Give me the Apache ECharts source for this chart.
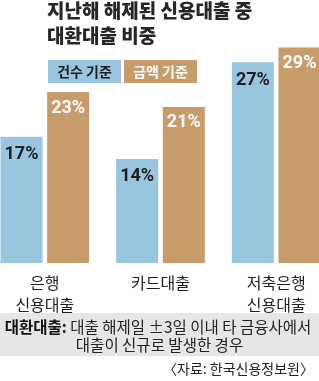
<!DOCTYPE html>
<html>
<head>
<meta charset="utf-8">
<script src="https://cdn.jsdelivr.net/npm/echarts@6/dist/echarts.min.js"></script>
<style>
  html, body { margin: 0; padding: 0; background: #fff; }
  #chart { width: 319px; height: 381px; }
</style>
</head>
<body>
<div id="chart"></div>
<script>
// 데이터
const categories = ['은행\n신용대출', '카드대출', '저축은행\n신용대출']
const countBased = [17, 14, 27]   // 건수 기준
const amountBased = [23, 21, 29]  // 금액 기준
const seriesNames = ['건수 기준', '금액 기준']

const BLUE = '#98c6df'
const BROWN = '#c89b6b'
const KR = '"Noto Sans CJK KR", "Noto Sans", sans-serif'
const NUM = '"Liberation Sans Narrow", "Roboto", sans-serif'

let chart = echarts.init(document.getElementById('chart'))

let option = {
    animation: false,
    grid: {
        left: -13,
        right: -15,
        top: 40,
        bottom: 118,
        containLabel: false,
        outerBoundsMode: 'none'
    },
    xAxis: {
        type: 'category',
        data: categories,
        axisLine: { show: false },
        axisTick: { show: false },
        axisLabel: {
            margin: 9,
            fontFamily: KR,
            fontSize: 16,
            lineHeight: 22,
            color: '#1e1e1e'
        }
    },
    yAxis: {
        type: 'value',
        min: 0,
        max: 30,
        show: false,
        splitLine: { show: false }
    },
    series: [
        {
            name: seriesNames[0],
            type: 'bar',
            data: countBased,
            barWidth: 42,
            barGap: '11%',
            itemStyle: { color: BLUE },
            label: {
                show: true,
                position: 'insideTop',
                distance: 9,
                formatter: '{c}%',
                fontFamily: NUM,
                fontWeight: 'bold',
                fontSize: 18,
                color: '#1e1e1e'
            }
        },
        {
            name: seriesNames[1],
            type: 'bar',
            data: amountBased,
            barWidth: 42,
            itemStyle: { color: BROWN },
            label: {
                show: true,
                position: 'insideTop',
                distance: 7,
                formatter: '{c}%',
                fontFamily: NUM,
                fontWeight: 'bold',
                fontSize: 18,
                color: '#fff'
            }
        }
    ],
    graphic: [
        // 제목
        {
            type: 'text', left: 47, top: 1,
            style: { text: '지난해 해제된 신용대출 중', font: '900 19px ' + KR, fill: '#262626' }
        },
        {
            type: 'text', left: 47, top: 26,
            style: { text: '대환대출 비중', font: '900 19px ' + KR, fill: '#262626' }
        },
        // 범례
        { type: 'rect', shape: { x: 48, y: 60, width: 73, height: 23 }, style: { fill: BLUE } },
        { type: 'rect', shape: { x: 124, y: 60, width: 73, height: 23 }, style: { fill: BROWN } },
        {
            type: 'text', x: 84.5, y: 71.5,
            style: { text: seriesNames[0], font: 'bold 14px ' + KR, fill: '#1e1e1e', align: 'center', verticalAlign: 'middle' }
        },
        {
            type: 'text', x: 160.5, y: 71.5,
            style: { text: seriesNames[1], font: 'bold 14px ' + KR, fill: '#fff', align: 'center', verticalAlign: 'middle' }
        },
        // 주석
        { type: 'rect', shape: { x: 0, y: 313, width: 319, height: 43 }, style: { fill: '#e6e6e6' } },
        {
            type: 'text', x: 158, y: 327,
            style: {
                text: '{b|대환대출:} 대출 해제일 ±3일 이내 타 금융사에서',
                align: 'center', verticalAlign: 'middle',
                font: '15.5px ' + KR, fill: '#222',
                rich: { b: { fontFamily: KR, fontSize: 15.5, fontWeight: 'bold', fill: '#111' } }
            }
        },
        {
            type: 'text', x: 159.5, y: 345,
            style: { text: '대출이 신규로 발생한 경우', align: 'center', verticalAlign: 'middle', font: '15.5px ' + KR, fill: '#222' }
        },
        // 출처
        {
            type: 'text', x: 314, y: 369,
            style: { text: '〈자료: 한국신용정보원〉', align: 'right', verticalAlign: 'middle', font: '14px ' + KR, fill: '#222' }
        }
    ]
}

chart.setOption(option)
</script>
</body>
</html>
